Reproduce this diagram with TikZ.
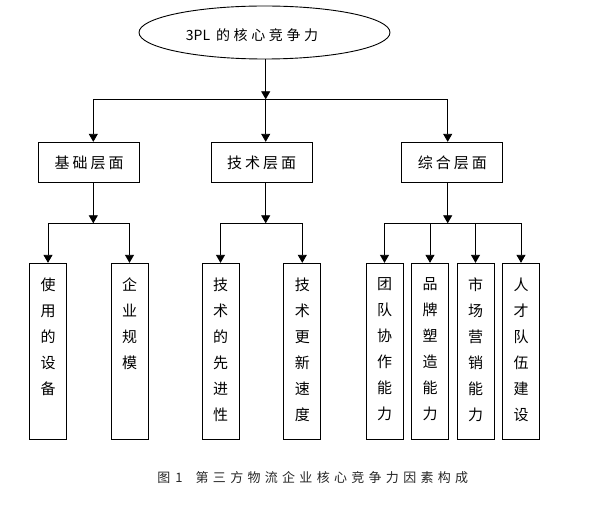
\documentclass[tikz,border=0pt]{standalone}
\usepackage{fontspec}
\setmainfont{Noto Sans CJK SC}
\usetikzlibrary{shapes.geometric,arrows.meta}
\newcommand\ls{\hspace{3pt}}
\newcommand\lse{\hspace{3.6pt}}
\newcommand\lsc{\hspace{4.3pt}}
\begin{document}
\begin{tikzpicture}[x=1pt,y=-1pt,
  line width=0.9pt,
  arr/.style={-{Triangle[length=8pt,width=9pt]}},
  rootshape/.style={draw,ellipse,minimum width=251pt,minimum height=53pt,inner sep=0pt},
  midbox/.style={draw,rectangle,minimum width=101pt,minimum height=40.4pt,inner sep=0pt,font=\fontsize{15pt}{18pt}\selectfont},
  leafbox/.style={draw,rectangle,minimum width=37pt,minimum height=176pt,inner sep=0pt},
  leaftxt/.style={anchor=north,align=center,inner sep=0pt,font=\fontsize{15pt}{26pt}\selectfont},
  captxt/.style={anchor=west,inner sep=0pt,text=black!85,font=\fontsize{13pt}{15pt}\selectfont}
]
\useasboundingbox (0,0) rectangle (595,529);

% root
\node[rootshape] (root) at (264.5,32.5) {};
\node[inner sep=0pt,font=\fontsize{14pt}{16pt}\selectfont] (roottxt) at (252,35) {3PL\hspace{6pt}的\lse 核\lse 心\lse 竞\lse 争\lse 力};

% middle boxes
\node[midbox] (m1) at (89,162.5) {基\ls 础\ls 层\ls 面};
\node[midbox] (m2) at (261.5,162.5) {技\ls 术\ls 层\ls 面};
\node[midbox] (m3) at (452.3,162.5) {综\ls 合\ls 层\ls 面};

% leaf boxes
\node[leafbox] (l1) at (48,351.3) {};
\node[leafbox] (l2) at (129.5,351.3) {};
\node[leafbox] (l3) at (220.5,351.3) {};
\node[leafbox] (l4) at (302.3,351.3) {};
\node[leafbox] (l5) at (384.5,351.3) {};
\node[leafbox] (l6) at (430,351.3) {};
\node[leafbox] (l7) at (475.5,351.3) {};
\node[leafbox] (l8) at (521,351.3) {};

\node[leaftxt] (t1) at (48,277.5) {使\\用\\的\\设\\备};
\node[leaftxt] (t2) at (129.5,277.5) {企\\业\\规\\模};
\node[leaftxt] (t3) at (220.5,277.5) {技\\术\\的\\先\\进\\性};
\node[leaftxt] (t4) at (302.3,277.5) {技\\术\\更\\新\\速\\度};
\node[leaftxt] (t5) at (384.5,277.5) {团\\队\\协\\作\\能\\力};
\node[leaftxt] (t6) at (430,277.5) {品\\牌\\塑\\造\\能\\力};
\node[leaftxt] (t7) at (475.5,277.5) {市\\场\\营\\销\\能\\力};
\node[leaftxt] (t8) at (521,277.5) {人\\才\\队\\伍\\建\\设};

% bus coordinates
\coordinate (b0) at (265.7,99.3);
\coordinate (a1) at (93.3,99.3);
\coordinate (a2) at (265.7,99.3);
\coordinate (a3) at (447.7,99.3);

\draw[arr] (root.south -| b0) -- (b0);
\draw (a1) -- (a3);
\draw[arr] (a1) -- (a1 |- m1.north);
\draw[arr] (a2) -- (a2 |- m2.north);
\draw[arr] (a3) -- (a3 |- m3.north);

\coordinate (c1) at (93.3,223.3);
\coordinate (c2) at (265.7,223.3);
\coordinate (c3) at (447.7,223.3);

\draw[arr] (c1 |- m1.south) -- (c1);
\draw[arr] (c2 |- m2.south) -- (c2);
\draw[arr] (c3 |- m3.south) -- (c3);

\draw (l1.north |- c1) -- (l2.north |- c1);
\draw (l3.north |- c2) -- (l4.north |- c2);
\draw (l5.north |- c3) -- (l8.north |- c3);

\foreach \l/\c in {l1/c1,l2/c1,l3/c2,l4/c2,l5/c3,l6/c3,l7/c3,l8/c3}
  \draw[arr] (\l.north |- \c) -- (\l.north);

% caption
\node[captxt] (cap) at (157,477.5) {图\hspace{5pt}1\hspace{13pt}第\lsc 三\lsc 方\lsc 物\lsc 流\lsc 企\lsc 业\lsc 核\lsc 心\lsc 竞\lsc 争\lsc 力\lsc 因\lsc 素\lsc 构\lsc 成};
\end{tikzpicture}
\end{document}
